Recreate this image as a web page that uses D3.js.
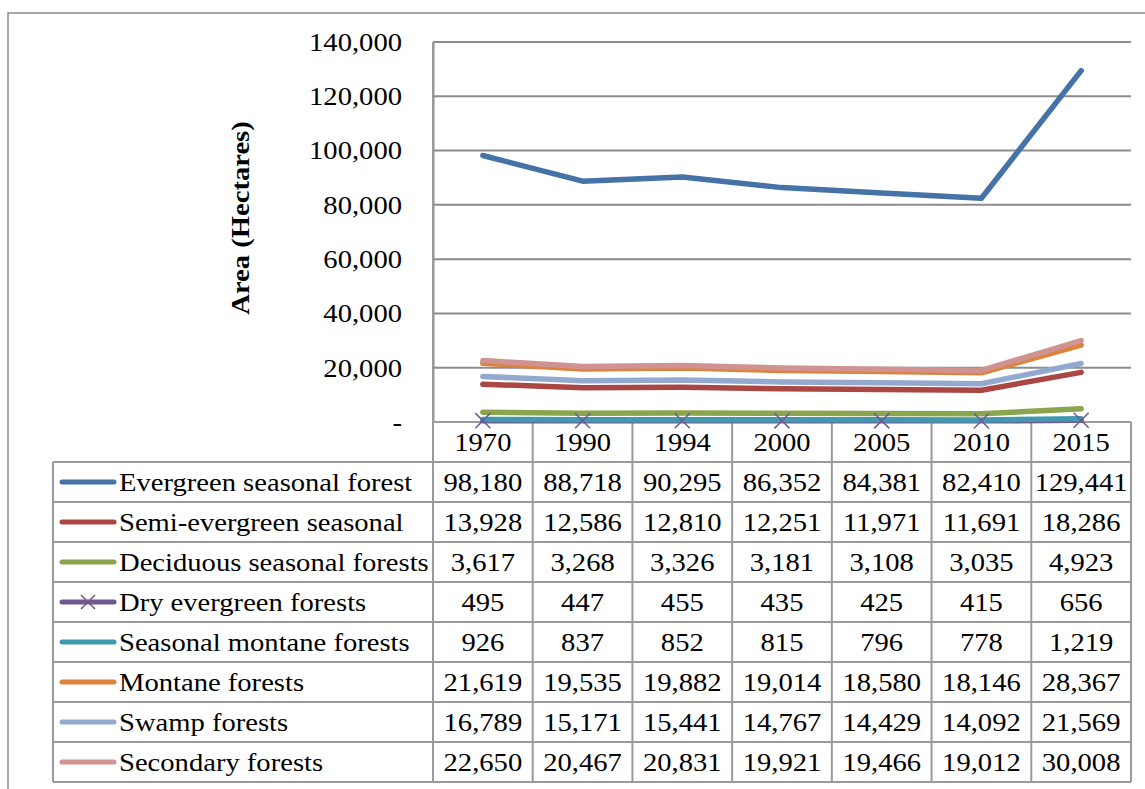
<!DOCTYPE html>
<html>
<head>
<meta charset="utf-8">
<script src="https://cdn.jsdelivr.net/npm/d3@7"></script>
<style>
  body { margin: 0; background: #fff; }
  text { font-family: "Liberation Serif", "DejaVu Serif", serif; fill: #000; }
</style>
</head>
<body>
<div id="chart"></div>
<script>
// data
const years = ["1970", "1990", "1994", "2000", "2005", "2010", "2015"];
const seriesNames = [
    "Evergreen seasonal forest",
    "Semi-evergreen seasonal",
    "Deciduous seasonal forests",
    "Dry evergreen forests",
    "Seasonal montane forests",
    "Montane forests",
    "Swamp forests",
    "Secondary forests"
];
const evergreen = [98180, 88718, 90295, 86352, 84381, 82410, 129441];
const semiEvergreen = [13928, 12586, 12810, 12251, 11971, 11691, 18286];
const deciduous = [3617, 3268, 3326, 3181, 3108, 3035, 4923];
const dryEvergreen = [495, 447, 455, 435, 425, 415, 656];
const seasonalMontane = [926, 837, 852, 815, 796, 778, 1219];
const montane = [21619, 19535, 19882, 19014, 18580, 18146, 28367];
const swamp = [16789, 15171, 15441, 14767, 14429, 14092, 21569];
const secondary = [22650, 20467, 20831, 19921, 19466, 19012, 30008];
const yTicks = [0, 20000, 40000, 60000, 80000, 100000, 120000, 140000];
const colors = ["#4572A7", "#AA4643", "#89A54E", "#71588F", "#4198AF", "#DB843D", "#93A9CF", "#D19392"];

const seriesValues = [evergreen, semiEvergreen, deciduous, dryEvergreen, seasonalMontane, montane, swamp, secondary];
const series = seriesNames.map((name, i) => ({
    name: name,
    values: seriesValues[i],
    color: colors[i],
    marker: name === "Dry evergreen forests"
}));

const width = 1145, height = 789;
const plot = {left: 433, right: 1131, top: 42, bottom: 422};
const rowH = 40;
const legendLeft = 53;
const gridColor = "#8c8c8c";
const tableColor = "#9a9a9a";
const fontSize = 26;
const stretch = 1.1;   // the original serif face is wider than Liberation Serif

const svg = d3.select("#chart").append("svg")
    .attr("width", width)
    .attr("height", height);

// place a text at (px,py), widened a little to match the original font
function placeText(sel, px, py) {
    sel.attr("x", 0).attr("y", 0)
        .attr("transform", (d, i) => `translate(${px(d, i)},${py(d, i)}) scale(${stretch},1)`);
}

// outer border
svg.append("rect")
    .attr("x", 8).attr("y", 13)
    .attr("width", width + 10).attr("height", height + 10)
    .attr("fill", "none")
    .attr("stroke", "#8a8a8a")
    .attr("stroke-width", 1.5);

const x = d3.scaleBand()
    .domain(years)
    .range([plot.left, plot.right]);

const y = d3.scaleLinear()
    .domain([0, 140000])
    .range([plot.bottom, plot.top]);

// gridlines
svg.append("g")
    .selectAll("line")
    .data(yTicks)
    .join("line")
    .attr("x1", plot.left).attr("x2", plot.right)
    .attr("y1", d => y(d)).attr("y2", d => y(d))
    .attr("stroke", gridColor)
    .attr("stroke-width", 2);

// y axis
const fmt = d3.format(",");
const yAxis = d3.axisLeft(y)
    .tickValues(yTicks)
    .tickSize(0)
    .tickPadding(0)
    .tickFormat(d => d === 0 ? "-" : fmt(d));

const yAxisG = svg.append("g")
    .attr("transform", `translate(${plot.left},0)`)
    .call(yAxis);
yAxisG.select(".domain")
    .attr("stroke", gridColor)
    .attr("stroke-width", 2);
yAxisG.selectAll(".tick text")
    .attr("x", 0)
    .attr("font-family", "Liberation Serif")
    .attr("font-size", fontSize)
    .attr("fill", "#000")
    .attr("transform", `translate(-31,0) scale(${stretch},1)`);

svg.append("text")
    .attr("transform", `translate(249, 218) rotate(-90) scale(${stretch},1)`)
    .attr("text-anchor", "middle")
    .attr("font-size", fontSize)
    .attr("font-weight", "bold")
    .text("Area (Hectares)");

// data table
const tableTop = plot.bottom;
const table = svg.append("g");

// header row (years)
table.selectAll(".yearLabel")
    .data(years)
    .join("text")
    .attr("class", "yearLabel")
    .call(placeText, d => x(d) + x.bandwidth() / 2, () => tableTop + rowH / 2)
    .attr("dy", "0.35em")
    .attr("text-anchor", "middle")
    .attr("font-size", fontSize)
    .text(d => d);

// rows
const rows = table.selectAll(".row")
    .data(series)
    .join("g")
    .attr("class", "row")
    .attr("transform", (d, i) => `translate(0,${tableTop + rowH * (i + 1)})`);

rows.append("line")
    .attr("x1", legendLeft + 9).attr("x2", legendLeft + 61)
    .attr("y1", rowH / 2).attr("y2", rowH / 2)
    .attr("stroke", d => d.color)
    .attr("stroke-width", 5)
    .attr("stroke-linecap", "round");

rows.filter(d => d.marker)
    .append("path")
    .attr("d", d3.symbol(d3.symbolX, 130)())
    .attr("transform", `translate(${legendLeft + 35},${rowH / 2})`)
    .attr("stroke", d => d.color)
    .attr("stroke-width", 1.5)
    .attr("fill", "none");

rows.append("text")
    .call(placeText, () => legendLeft + 66, () => rowH / 2)
    .attr("dy", "0.35em")
    .attr("font-size", fontSize)
    .text(d => d.name);

rows.selectAll(".val")
    .data(d => d.values.map((v, i) => ({year: years[i], v: v})))
    .join("text")
    .attr("class", "val")
    .call(placeText, d => x(d.year) + x.bandwidth() / 2, () => rowH / 2)
    .attr("dy", "0.35em")
    .attr("text-anchor", "middle")
    .attr("font-size", fontSize)
    .text(d => fmt(d.v));

// table grid
const tableBottom = tableTop + rowH * (series.length + 1);
const hLines = d3.range(series.length + 2);
table.selectAll(".hline")
    .data(hLines)
    .join("line")
    .attr("class", "hline")
    .attr("x1", d => d <= 0 ? plot.left : legendLeft)
    .attr("x2", plot.right)
    .attr("y1", d => tableTop + d * rowH)
    .attr("y2", d => tableTop + d * rowH)
    .attr("stroke", tableColor)
    .attr("stroke-width", 2);

const vBounds = years.map(d => x(d)).concat([plot.right]);
table.selectAll(".vline")
    .data(vBounds)
    .join("line")
    .attr("class", "vline")
    .attr("x1", d => d).attr("x2", d => d)
    .attr("y1", (d, i) => i === 0 ? plot.top : tableTop)
    .attr("y2", tableBottom)
    .attr("stroke", tableColor)
    .attr("stroke-width", 2);

table.append("line")
    .attr("x1", legendLeft).attr("x2", legendLeft)
    .attr("y1", tableTop + rowH).attr("y2", tableBottom)
    .attr("stroke", tableColor)
    .attr("stroke-width", 2);

// lines
const line = d3.line()
    .x((d, i) => x(years[i]) + x.bandwidth() / 2)
    .y(d => y(d));

svg.append("g")
    .selectAll("path")
    .data(series)
    .join("path")
    .attr("d", d => line(d.values))
    .attr("fill", "none")
    .attr("stroke", d => d.color)
    .attr("stroke-width", 5.5)
    .attr("stroke-linecap", "round")
    .attr("stroke-linejoin", "round");

// X markers for dry evergreen
const markerSeries = series.filter(d => d.marker);
markerSeries.forEach(s => {
    svg.append("g")
        .selectAll("path")
        .data(s.values)
        .join("path")
        .attr("d", d3.symbol(d3.symbolX, 150)())
        .attr("transform", (d, i) => `translate(${x(years[i]) + x.bandwidth() / 2},${y(d)})`)
        .attr("stroke", s.color)
        .attr("stroke-width", 1.5)
        .attr("fill", "none");
});
</script>
</body>
</html>
